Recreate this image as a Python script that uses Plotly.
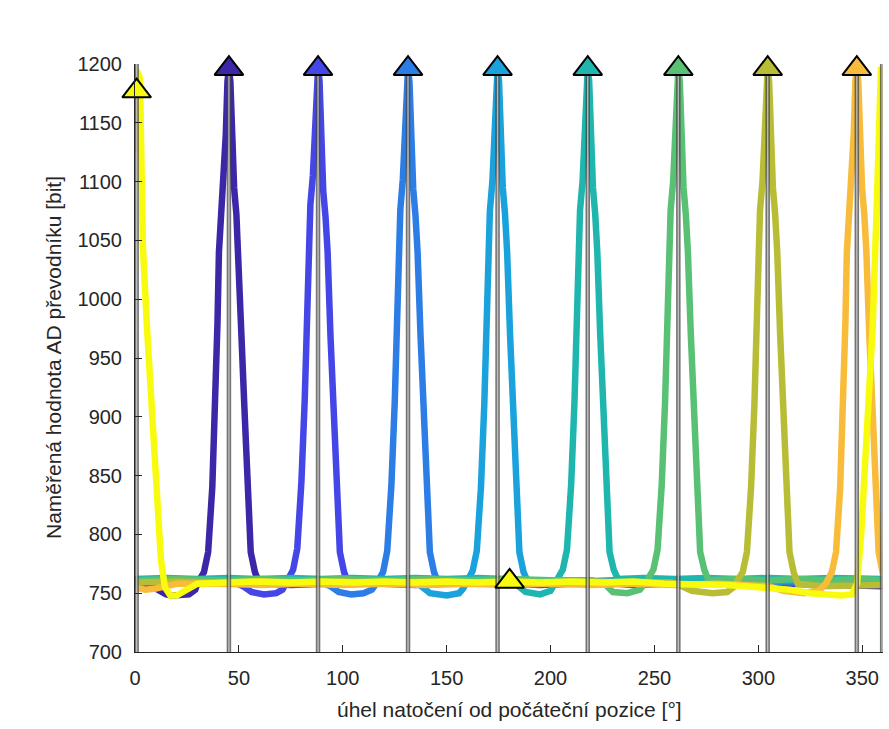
import plotly.graph_objects as go

# Rotation angle [deg] vs. ADC reading [bit] for nine sensor positions (parula order)
SERIES_NAMES = ["S1", "S2", "S3", "S4", "S5", "S6", "S7", "S8", "S9"]
SERIES_COLORS = ["#3e26a8", "#4446e8", "#2c7ee6", "#1aa2dc", "#20b6b0",
                 "#58c173", "#b8bd35", "#f8bb3a", "#f9fb0e"]

S1_PTS = [(0, 759), (4, 757), (8, 756), (12, 752), (15, 749), (18, 748), (22, 748), (26, 749), (29, 753),
          (30.2, 759), (33.2, 768), (35.2, 785), (37.2, 840), (38.8, 910), (39.7, 980), (40.4, 1040),
          (41.5, 1075), (42.7, 1100), (43.7, 1140), (44.5, 1185), (45.2, 1196), (45.9, 1185), (46.7, 1130),
          (47.7, 1095), (48.8, 1072), (49.8, 1040), (51.2, 970), (52.6, 910), (54.2, 840), (55.7, 785),
          (57.7, 768), (59.7, 759), (65, 758), (75, 757), (90, 758), (105, 759), (120, 758), (135, 757),
          (150, 758), (165, 759), (180, 758), (195, 757), (210, 758), (225, 759), (240, 757), (255, 758),
          (270, 759), (285, 758), (300, 757), (315, 758), (330, 757), (345, 756), (360, 756)]

S2_PTS = [(0, 760), (10, 759), (20, 760), (30, 759), (40, 760), (48, 759), (52, 756), (56, 751), (62, 749),
          (68, 750), (71, 753), (73.1, 759), (76.1, 770), (78.1, 788), (80.1, 845), (81.7, 915), (82.6, 985),
          (83.3, 1045), (84.4, 1080), (85.6, 1105), (86.6, 1145), (87.4, 1186), (88.1, 1196), (88.8, 1186),
          (89.6, 1125), (90.6, 1092), (91.7, 1070), (92.7, 1040), (94.1, 968), (95.5, 905), (97.1, 838),
          (98.6, 785), (100.6, 768), (102.6, 759), (110, 758), (125, 759), (140, 758), (155, 759), (170, 758),
          (185, 759), (200, 758), (215, 759), (230, 760), (245, 759), (260, 758), (275, 759), (290, 758),
          (305, 759), (320, 758), (335, 759), (350, 758), (360, 759)]

S3_PTS = [(0, 759), (15, 760), (30, 759), (45, 760), (60, 759), (75, 760), (90, 759), (94, 756), (98, 751),
          (104, 749), (110, 750), (114, 753), (116.4, 759), (119.4, 768), (121.4, 786), (123.4, 842),
          (125, 912), (125.9, 982), (126.6, 1042), (127.7, 1076), (128.9, 1102), (129.9, 1142), (130.7, 1185),
          (131.4, 1196), (132.1, 1185), (132.9, 1128), (133.9, 1094), (135, 1071), (136, 1040), (137.4, 970),
          (138.8, 908), (140.4, 840), (141.9, 785), (143.9, 768), (145.9, 759), (155, 760), (170, 759),
          (185, 760), (200, 759), (215, 760), (230, 759), (245, 760), (260, 759), (275, 760), (290, 759),
          (305, 760), (320, 759), (335, 760), (350, 759), (360, 759)]

S4_PTS = [(0, 760), (15, 761), (30, 760), (45, 761), (60, 760), (75, 761), (90, 760), (105, 761), (120, 760),
          (133, 760), (137, 757), (142, 750), (150, 748), (156, 750), (158, 754), (159.5, 760), (162.5, 769),
          (164.5, 786), (166.5, 840), (168.1, 910), (169, 980), (169.7, 1040), (170.8, 1075), (172, 1100),
          (173, 1140), (173.8, 1185), (174.5, 1196), (175.2, 1185), (176, 1130), (177, 1095), (178.1, 1072),
          (179.1, 1040), (180.5, 970), (181.9, 910), (183.5, 840), (185, 785), (187, 768), (189, 760),
          (200, 761), (215, 760), (230, 761), (245, 760), (260, 761), (275, 760), (290, 761), (305, 760),
          (320, 761), (335, 760), (350, 761), (360, 760)]

S5_PTS = [(0, 762), (15, 763), (30, 762), (45, 763), (60, 762), (75, 763), (90, 762), (105, 763), (120, 762),
          (135, 763), (150, 762), (165, 763), (178, 762), (183, 758), (188, 751), (195, 749), (200, 752),
          (202.9, 761), (205.9, 770), (207.9, 787), (209.9, 842), (211.5, 912), (212.4, 982), (213.1, 1042),
          (214.2, 1076), (215.4, 1100), (216.4, 1140), (217.2, 1185), (217.9, 1196), (218.6, 1185),
          (219.4, 1130), (220.4, 1095), (221.5, 1072), (222.5, 1040), (223.9, 970), (225.3, 910), (226.9, 840),
          (228.4, 785), (230.4, 770), (232.4, 762), (245, 763), (260, 762), (275, 763), (290, 762), (305, 763),
          (320, 762), (335, 763), (350, 762), (360, 762)]

S6_PTS = [(0, 761), (20, 762), (40, 761), (60, 762), (80, 761), (100, 762), (120, 761), (140, 762), (160, 761),
          (180, 762), (200, 761), (220, 761), (226, 758), (230, 751), (237, 750), (243, 753), (246.5, 761),
          (249.5, 770), (251.5, 787), (253.5, 842), (255.1, 912), (256, 982), (256.7, 1042), (257.8, 1076),
          (259, 1100), (260, 1140), (260.8, 1185), (261.5, 1196), (262.2, 1185), (263, 1130), (264, 1095),
          (265.1, 1072), (266.1, 1040), (267.5, 970), (268.9, 910), (270.5, 840), (272, 785), (274, 770),
          (276, 761), (290, 762), (305, 761), (320, 762), (335, 761), (350, 762), (360, 761)]

S7_PTS = [(0, 759), (20, 760), (40, 759), (60, 760), (80, 759), (100, 760), (120, 759), (140, 760), (160, 759),
          (180, 760), (200, 759), (220, 760), (240, 759), (258, 759), (262, 757), (268, 752), (278, 750),
          (285, 751), (288, 755), (289.5, 759), (292.5, 768), (294.5, 785), (296.5, 840), (298.1, 910),
          (299, 980), (299.7, 1040), (300.8, 1075), (302, 1100), (303, 1140), (303.8, 1185), (304.5, 1196),
          (305.2, 1185), (306, 1130), (307, 1095), (308.1, 1072), (309.1, 1040), (310.5, 970), (311.9, 910),
          (313.5, 840), (315, 785), (317, 768), (319, 758), (330, 756), (345, 756), (360, 757)]

S8_PTS = [(0, 755), (5, 753), (10, 754), (15, 756), (20, 758), (40, 758), (60, 757), (80, 758), (100, 757),
          (120, 758), (140, 757), (160, 758), (180, 757), (200, 758), (220, 757), (240, 758), (260, 757),
          (280, 758), (300, 757), (305, 756), (312, 752), (322, 750), (329, 752), (332.4, 758), (335.4, 768),
          (337.4, 785), (339.4, 840), (341, 910), (341.9, 980), (342.6, 1040), (343.7, 1075), (344.9, 1100),
          (345.9, 1140), (346.7, 1185), (347.4, 1196), (348.1, 1185), (348.9, 1130), (349.9, 1095),
          (351, 1072), (352, 1040), (353.4, 970), (354.8, 910), (356.4, 840), (357.9, 785), (360, 766)]

S9_PTS = [(0, 1125), (0.8, 1195), (2.4, 1188), (3.0, 1110), (3.8, 1045), (5.8, 975), (8.2, 905), (10.6, 825),
          (12.5, 778), (14.4, 755), (17, 748), (20, 748), (23, 751), (26, 755), (30, 758), (45, 759), (60, 760),
          (75, 759), (90, 760), (105, 759), (120, 760), (135, 759), (150, 760), (165, 759), (180, 760),
          (195, 759), (210, 760), (225, 759), (240, 760), (255, 758), (270, 758), (285, 757), (300, 755),
          (315, 753), (325, 750), (332, 749), (340, 748), (345, 749), (347.5, 758), (349.5, 800), (352, 870),
          (355, 975), (357, 1080), (358.3, 1170), (359, 1195), (360, 1195)]

SERIES_PTS = [S1_PTS, S2_PTS, S3_PTS, S4_PTS, S5_PTS, S6_PTS, S7_PTS, S8_PTS, S9_PTS]

# Detected sensor positions (vertical markers)
MARKER_ANGLES = [0.8, 45.2, 88.1, 131.4, 174.5, 217.9, 261.5, 304.5, 347.4, 359.6]

# Detected maxima (triangles): angle, value, series index
TRI_ANGLES = [0.8, 45.2, 88.1, 131.4, 174.5, 217.9, 261.5, 304.5, 347.4, 180.3]
TRI_VALUES = [1177, 1196, 1196, 1196, 1196, 1196, 1196, 1196, 1196, 760]
TRI_SERIES = [8, 0, 1, 2, 3, 4, 5, 6, 7, 8]

X_TICKS = [0, 50, 100, 150, 200, 250, 300, 350]
Y_TICKS = [700, 750, 800, 850, 900, 950, 1000, 1050, 1100, 1150, 1200]

AXIS_COLOR = "#262626"
FONT = "Liberation Sans, Arial, Helvetica, sans-serif"

fig = go.Figure()

for name, pts, color in zip(SERIES_NAMES, SERIES_PTS, SERIES_COLORS):
    fig.add_trace(go.Scatter(
        x=[p[0] for p in pts], y=[p[1] for p in pts], mode="lines", name=name,
        line=dict(color=color, width=6.5), hoverinfo="skip"))

for a in MARKER_ANGLES:
    fig.add_trace(go.Scatter(x=[a, a], y=[700, 1200], mode="lines",
                             line=dict(color="rgba(70,70,70,0.75)", width=4.5), hoverinfo="skip"))
    fig.add_trace(go.Scatter(x=[a, a], y=[700, 1200], mode="lines",
                             line=dict(color="rgba(215,215,215,0.75)", width=1.4), hoverinfo="skip"))

fig.add_trace(go.Scatter(
    x=TRI_ANGLES, y=TRI_VALUES, mode="markers", cliponaxis=False,
    marker=dict(symbol="triangle-up", size=25,
                color=[SERIES_COLORS[i] for i in TRI_SERIES],
                line=dict(color="black", width=2)),
    hoverinfo="skip"))

axis_common = dict(showgrid=False, zeroline=False, showline=True, linecolor=AXIS_COLOR, linewidth=1,
                   ticks="inside", ticklen=7, tickwidth=1, tickcolor=AXIS_COLOR, mirror=False,
                   tickfont=dict(family=FONT, size=20, color=AXIS_COLOR))

fig.update_layout(
    width=889, height=729,
    margin=dict(l=135, r=6, t=64, b=77),
    paper_bgcolor="white", plot_bgcolor="white",
    showlegend=False,
    font=dict(family=FONT, size=20, color=AXIS_COLOR),
    xaxis=dict(range=[0, 360], tickvals=X_TICKS, ticklabelstandoff=8, **axis_common),
    yaxis=dict(range=[700, 1200], tickvals=Y_TICKS, ticklabelstandoff=8, **axis_common),
    annotations=[
        dict(text="úhel natočení od počáteční pozice [°]", xref="paper", yref="paper",
             x=0.5, y=-0.098, xanchor="center", yanchor="middle", showarrow=False,
             font=dict(family=FONT, size=21, color=AXIS_COLOR)),
        dict(text="Naměřená hodnota AD převodníku [bit]", xref="paper", yref="paper",
             x=-0.1096, y=0.5, xanchor="center", yanchor="middle", textangle=-90, showarrow=False,
             font=dict(family=FONT, size=21, color=AXIS_COLOR)),
    ],
)

fig.write_html("out.html")
